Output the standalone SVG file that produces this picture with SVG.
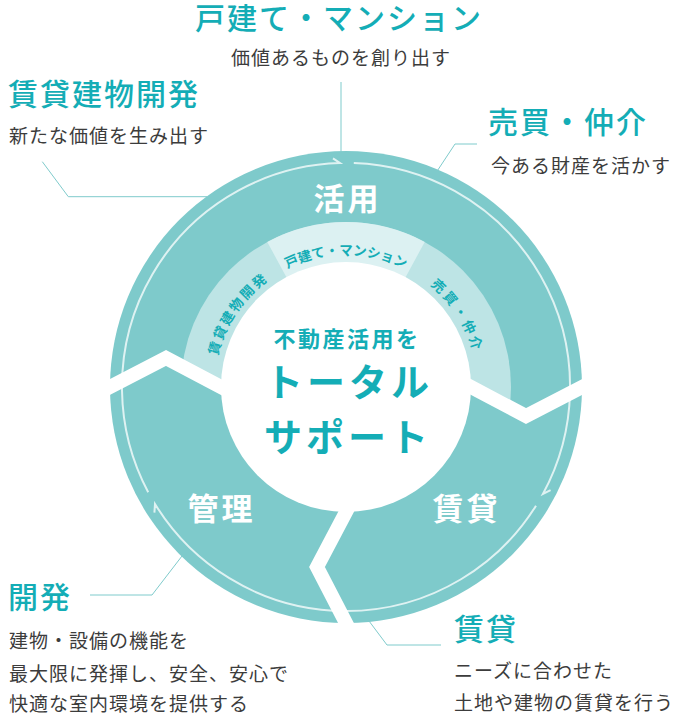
<svg xmlns="http://www.w3.org/2000/svg" width="680" height="720" viewBox="0 0 680 720">
<defs>
<style>
text{font-family:"Noto Sans CJK JP","Noto Sans",sans-serif;}
.ttl{font-size:30px;fill:#14adb6;font-weight:500;letter-spacing:2px;}
.body{font-size:19px;fill:#3c3c3c;letter-spacing:1px;}
.sec{font-size:31px;fill:#fff;font-weight:700;letter-spacing:3px;text-anchor:middle;}
.ctr{fill:#14adb6;font-weight:700;text-anchor:middle;}
.arc{font-size:13.5px;fill:#14adb6;font-weight:700;text-anchor:middle;}
.lead{fill:none;stroke:#7fcbcc;stroke-width:1;}
.gap{fill:none;stroke:#fff;stroke-width:14;stroke-linejoin:miter;stroke-miterlimit:10;}
.flow{fill:none;stroke:#fff;stroke-opacity:0.75;stroke-width:2;stroke-linejoin:miter;}
</style>
<clipPath id="topSector"><polygon points="98.8,392.8 166,358 237.5,395.7 454.5,378.3 526,416 593.2,381.2 593,140 99,140"/></clipPath>
<path id="bandPath" d="M214 387 A132 132 0 0 1 478 387"/>
</defs>
<g id="ring">
<circle cx="346" cy="387" r="236" fill="#7ecacb"/>
<circle cx="346" cy="387" r="165" fill="#bde4e5" clip-path="url(#topSector)"/>
<path d="M346 387 L267.3 242 A165 165 0 0 1 424.7 242 Z" fill="#dcf1f2"/>
<circle cx="346" cy="387" r="125" fill="#fff"/>
<polyline class="gap" points="98.8,392.8 166,358 237.5,395.7"/>
<polyline class="gap" points="454.5,378.3 526,416 593.2,381.2"/>
<polyline class="gap" points="354.7,495.5 317,567 351.8,634.2"/>
<path class="flow" d="M148.2 492.2 A224 224 0 0 1 340.1 163.1 L333.0 158.3"/>
<path class="flow" d="M353.8 163.1 A224 224 0 0 1 542.9 493.9 L550.6 490.1"/>
<path class="flow" d="M536.0 505.7 A224 224 0 0 1 155.0 504.0 L154.4 512.6"/>
</g>
<g id="sector-katsuyo"><text class="sec" x="347.5" y="210">活用</text></g>
<g id="sector-kanri"><text class="sec" x="221.5" y="520">管理</text></g>
<g id="sector-chintai"><text class="sec" x="466.5" y="520">賃貸</text></g>
<g id="center">
<text class="ctr" x="347" y="347" font-size="22" letter-spacing="2.5">不動産活用を</text>
<text class="ctr" x="349" y="396" font-size="38" letter-spacing="4">トータル</text>
<text class="ctr" x="348" y="451" font-size="38" letter-spacing="4">サポート</text>
</g>
<g id="band-labels">
<text class="arc" letter-spacing="2.2"><textPath href="#bandPath" startOffset="78.3">賃貸建物開発</textPath></text>
<text class="arc" font-size="13"><textPath href="#bandPath" startOffset="207.3">戸建て・マンション</textPath></text>
<text class="arc" letter-spacing="3"><textPath href="#bandPath" startOffset="339.5">売買・仲介</textPath></text>
</g>
<g id="connectors">
<polyline class="lead" points="341,82 341,152"/>
<polyline class="lead" points="42.3,161.7 68.3,196.7 207,196.7"/>
<polyline class="lead" points="437.5,170.5 455,144 477,144"/>
<polyline class="lead" points="182,556 152,595 90,595"/>
<polyline class="lead" points="369,621 387,645 441,645"/>
</g>
<g id="label-kodate">
<text class="ttl" x="195" y="28.5">戸建て・マンション</text>
<text class="body" x="231" y="65">価値あるものを創り出す</text>
</g>
<g id="label-chintai-kaihatsu">
<text class="ttl" x="8" y="105">賃貸建物開発</text>
<text class="body" x="9" y="143">新たな価値を生み出す</text>
</g>
<g id="label-baibai">
<text class="ttl" x="488" y="133">売買・仲介</text>
<text class="body" x="491" y="173">今ある財産を活かす</text>
</g>
<g id="label-kaihatsu">
<text class="ttl" x="8" y="608">開発</text>
<text class="body" x="9" y="648">建物・設備の機能を</text>
<text class="body" x="9" y="681">最大限に発揮し、安全、安心で</text>
<text class="body" x="9" y="711">快適な室内環境を提供する</text>
</g>
<g id="label-chintai">
<text class="ttl" x="454" y="640">賃貸</text>
<text class="body" x="454" y="678">ニーズに合わせた</text>
<text class="body" x="454" y="710">土地や建物の賃貸を行う</text>
</g>
</svg>
